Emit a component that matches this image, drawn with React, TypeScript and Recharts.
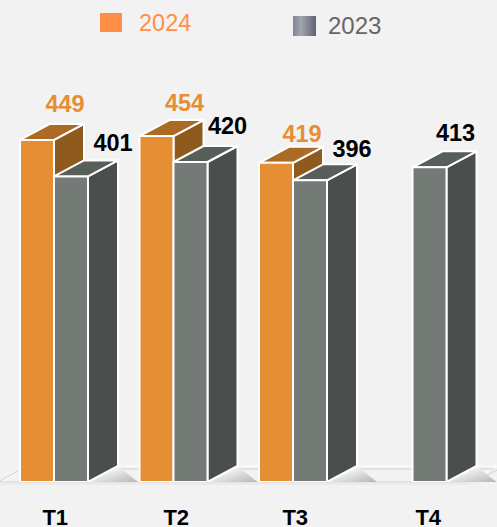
import { Bar, BarChart, LabelList, Legend, XAxis, YAxis, usePlotArea } from 'recharts'

const quarters = ['T1', 'T2', 'T3', 'T4']
const values2024 = [449, 454, 419, null]
const values2023 = [401, 420, 396, 413]

const rows = quarters.map((quarter, i) => ({
    quarter,
    y2024: values2024[i],
    y2023: values2023[i],
}))

// how far the extruded faces run back from the front of a bar
const DEPTH_X = 30
const DEPTH_Y = 16

const orangeFaces = { front: '#E68E33', top: '#AB6B25', side: '#8F5A1E' }
const grayFaces = { front: '#747A76', top: '#585E59', side: '#4A4E4C' }

const makeBox = (faces: typeof orangeFaces) => (props: any) => {
    const { x, y, width, height } = props
    if (!height) return null
    const right = x + width
    const bottom = y + height
    return (
        <g>
            {/* soft shadow thrown on the floor */}
            <polygon
                fill="url(#floorShadow)"
                points={`${right},${bottom} ${right + DEPTH_X},${bottom - DEPTH_Y} ${right + DEPTH_X + 20},${bottom}`}
            />
            <g stroke="#FFFFFF" strokeWidth={2} strokeLinejoin="round">
                <polygon
                    fill={faces.side}
                    points={`${right},${y} ${right + DEPTH_X},${y - DEPTH_Y} ${right + DEPTH_X},${bottom - DEPTH_Y} ${right},${bottom}`}
                />
                <polygon
                    fill={faces.top}
                    points={`${x},${y} ${x + DEPTH_X},${y - DEPTH_Y} ${right + DEPTH_X},${y - DEPTH_Y} ${right},${y}`}
                />
                <rect x={x} y={y} width={width} height={height} fill={faces.front} />
            </g>
        </g>
    )
}

// the thin slab the bars stand on
const Floor = () => {
    const plot = usePlotArea()
    if (!plot) return null
    const bottom = plot.y + plot.height
    const left = 0
    const right = 467
    return (
        <g fill="none">
            <defs>
                <linearGradient id="floorShadow" x1="0" y1="0" x2="1" y2="1">
                    <stop offset="0.35" stopColor="#F2F2F2" />
                    <stop offset="1" stopColor="#B5B5B5" />
                </linearGradient>
            </defs>
            <polygon
                points={`${left},${bottom} ${left + DEPTH_X},${bottom - DEPTH_Y} ${right + DEPTH_X},${bottom - DEPTH_Y} ${right},${bottom}`}
                stroke="#FAFAFA"
                strokeWidth={1.5}
            />
            <path
                d={`M${left},${bottom} H${right} M${left + DEPTH_X - 11},${bottom - DEPTH_Y + 3} H${right + DEPTH_X - 3}`}
                stroke="#D0D0D0"
                strokeWidth={1.2}
            />
            <path d={`M${left},${bottom + 2} H${right + 2} L${right + DEPTH_X},${bottom - DEPTH_Y + 4}`} stroke="#E4E4E4" strokeWidth={1.2} />
            <path d={`M${right + 8},${bottom} L${right + DEPTH_X},${bottom - 12}`} stroke="#D0D0D0" strokeWidth={1} strokeDasharray="3 1" />
            <path d={`M${left},${bottom - 1} L${left + 18},${bottom - 11}`} stroke="#D0D0D0" strokeWidth={1} />
        </g>
    )
}

// labels sit by hand around the box tops
const labelNudges: Record<string, number[][]> = {
    y2024: [[28, -36], [28, -33], [26, -29], [0, 0]],
    y2023: [[42, -33], [37, -36], [42, -31], [26, -34]],
}

const makeValueLabel = (seriesKey: string, color: string) => (props: any) => {
    const { x, y, width, value, index } = props
    if (value == null) return null
    const [dx, dy] = labelNudges[seriesKey][index]
    return (
        <text
            x={x + width / 2 + dx}
            y={y + dy}
            textAnchor="middle"
            dominantBaseline="central"
            fill={color}
            fontFamily="Liberation Sans"
            fontWeight="bold"
            fontSize={23.5}
        >
            {value}
        </text>
    )
}

const tickNudges = [1.5, 3, 2.5, 16]

const QuarterTick = (props: any) => {
    const { x, y, payload, index } = props
    return (
        <text
            x={x + tickNudges[index]}
            y={y + 37}
            textAnchor="middle"
            fill="#000000"
            fontFamily="Liberation Sans"
            fontWeight="bold"
            fontSize={22}
        >
            {payload.value}
        </text>
    )
}

const LegendRow = () => (
    <div style={{ position: 'relative', width: 497, height: 50, fontFamily: 'Liberation Sans', fontSize: 23.5 }}>
        <div style={{ position: 'absolute', left: 100, top: 13, width: 22, height: 19, background: '#FF8F47' }} />
        <div style={{ position: 'absolute', left: 139, top: 10, color: '#FF8F47' }}>2024</div>
        <div
            style={{
                position: 'absolute',
                left: 293,
                top: 16,
                width: 23,
                height: 20,
                background: 'linear-gradient(90deg, #7F8494, #A2A6B2 35%, #5E6270)',
            }}
        />
        <div style={{ position: 'absolute', left: 328, top: 12, color: '#666666', fontSize: 24 }}>2023</div>
    </div>
)

export default function App() {
    return (
        <div style={{ position: 'absolute', left: 0, top: 0, width: 497, height: 527, overflow: 'hidden', background: '#F2F2F2' }}>
            <BarChart
                width={497}
                height={527}
                data={rows}
                margin={{ top: 0, right: 25, bottom: 0, left: -6 }}
                barSize={34}
                barGap={0}
            >
                <XAxis
                    dataKey="quarter"
                    axisLine={false}
                    tickLine={false}
                    height={45}
                    tick={<QuarterTick />}
                    tickMargin={0}
                    interval={0}
                />
                <YAxis hide domain={[0, 567]} allowDataOverflow />
                <Floor />
                <Legend
                    verticalAlign="top"
                    content={<LegendRow />}
                    wrapperStyle={{ left: 0, top: 0, width: 497, margin: 0 }}
                />
                <Bar dataKey="y2024" shape={makeBox(orangeFaces)} isAnimationActive={false}>
                    <LabelList dataKey="y2024" content={makeValueLabel('y2024', '#E68E33')} />
                </Bar>
                <Bar dataKey="y2023" shape={makeBox(grayFaces)} isAnimationActive={false}>
                    <LabelList dataKey="y2023" content={makeValueLabel('y2023', '#000000')} />
                </Bar>
            </BarChart>
        </div>
    )
}
